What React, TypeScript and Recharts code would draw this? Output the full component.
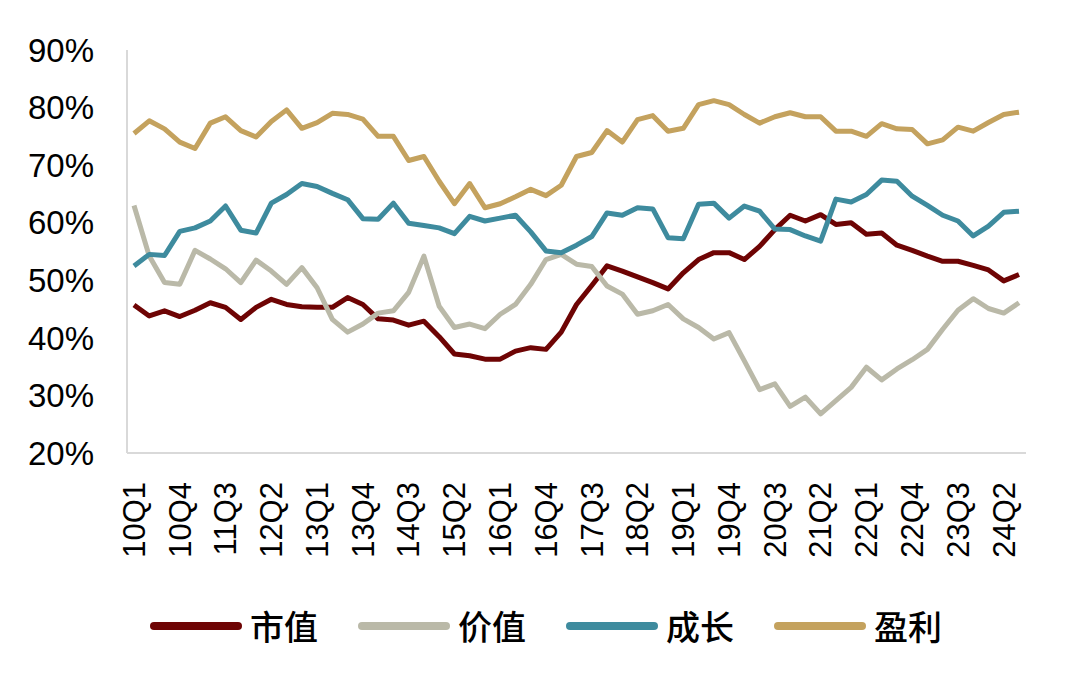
import React from 'react';
import { LineChart, Line, XAxis, YAxis, Legend } from 'recharts';

const QUARTERS = [
  '10Q1', '10Q2', '10Q3', '10Q4', '11Q1', '11Q2', '11Q3', '11Q4',
  '12Q1', '12Q2', '12Q3', '12Q4', '13Q1', '13Q2', '13Q3', '13Q4',
  '14Q1', '14Q2', '14Q3', '14Q4', '15Q1', '15Q2', '15Q3', '15Q4',
  '16Q1', '16Q2', '16Q3', '16Q4', '17Q1', '17Q2', '17Q3', '17Q4',
  '18Q1', '18Q2', '18Q3', '18Q4', '19Q1', '19Q2', '19Q3', '19Q4',
  '20Q1', '20Q2', '20Q3', '20Q4', '21Q1', '21Q2', '21Q3', '21Q4',
  '22Q1', '22Q2', '22Q3', '22Q4', '23Q1', '23Q2', '23Q3', '23Q4',
  '24Q1', '24Q2', '24Q3',
];

// 市值
const MARKET_CAP = [
  45.7, 43.8, 44.7, 43.7, 44.8, 46.1, 45.3, 43.2, 45.3, 46.7, 45.8, 45.4,
  45.3, 45.3, 47.0, 45.8, 43.3, 43.1, 42.2, 42.9, 40.2, 37.2, 36.9, 36.3,
  36.3, 37.7, 38.3, 38.0, 41.0, 45.8, 49.1, 52.5, 51.6, 50.6, 49.6, 48.5,
  51.3, 53.6, 54.8, 54.8, 53.6, 55.9, 58.8, 61.3, 60.3, 61.4, 59.7, 60.0,
  58.0, 58.2, 56.1, 55.2, 54.2, 53.3, 53.3, 52.6, 51.8, 49.9, 51.0,
];

// 价值
const VALUE = [
  63.0, 54.2, 49.6, 49.3, 55.2, 53.7, 52.0, 49.6, 53.5, 51.6, 49.3, 52.2,
  48.7, 43.2, 41.0, 42.4, 44.3, 44.7, 47.9, 54.2, 45.5, 41.8, 42.4, 41.6,
  44.1, 45.8, 49.3, 53.6, 54.5, 52.8, 52.4, 49.0, 47.6, 44.1, 44.7, 45.8,
  43.3, 41.8, 39.8, 40.9, 36.0, 31.0, 32.0, 28.1, 29.7, 26.8, 29.1, 31.4,
  34.9, 32.7, 34.6, 36.2, 38.0, 41.5, 44.8, 46.8, 45.1, 44.3, 46.1,
];

// 成长
const GROWTH = [
  52.5, 54.5, 54.3, 58.5, 59.1, 60.3, 62.9, 58.7, 58.2, 63.4, 64.9, 66.8,
  66.3, 65.1, 64.0, 60.7, 60.6, 63.4, 59.9, 59.5, 59.1, 58.1, 61.1, 60.3,
  60.8, 61.3, 58.4, 55.1, 54.8, 56.1, 57.6, 61.7, 61.3, 62.6, 62.4, 57.4,
  57.2, 63.2, 63.4, 60.8, 62.9, 62.0, 58.9, 58.8, 57.7, 56.8, 64.1, 63.6,
  64.9, 67.4, 67.2, 64.6, 63.0, 61.3, 60.3, 57.7, 59.4, 61.8, 62.0,
];

// 盈利
const PROFIT = [
  75.5, 77.7, 76.3, 74.0, 72.9, 77.3, 78.4, 76.0, 74.9, 77.6, 79.6, 76.4,
  77.4, 79.0, 78.8, 78.0, 75.0, 75.0, 70.8, 71.5, 67.2, 63.3, 66.8, 62.6,
  63.3, 64.5, 65.8, 64.7, 66.5, 71.5, 72.2, 76.0, 74.0, 77.9, 78.6, 75.9,
  76.4, 80.5, 81.2, 80.5, 78.8, 77.3, 78.4, 79.1, 78.4, 78.4, 75.9, 75.9,
  75.0, 77.2, 76.3, 76.2, 73.7, 74.4, 76.6, 75.9, 77.4, 78.8, 79.2,
];

const Y_TICKS = [20, 30, 40, 50, 60, 70, 80, 90];

const SERIES = [
  { key: 'marketCap', name: '市值', color: '#6E0404' },
  { key: 'value', name: '价值', color: '#BAB9A8' },
  { key: 'growth', name: '成长', color: '#3E8B9E' },
  { key: 'profit', name: '盈利', color: '#C4A25E' },
];

const chartData = QUARTERS.map((q, i) => ({
  quarter: q,
  marketCap: MARKET_CAP[i],
  value: VALUE[i],
  growth: GROWTH[i],
  profit: PROFIT[i],
}));

const LATIN_FONT = '"Liberation Sans", Arial, sans-serif';
const CJK_FONT = '"Noto Sans CJK SC", sans-serif';

const QuarterTick = (props: any) => {
  const { x, y, payload } = props;
  return (
    <text
      x={x}
      y={y}
      transform={`rotate(-90, ${x}, ${y})`}
      textAnchor="end"
      dy="0.35em"
      fontSize={31}
      fontFamily={LATIN_FONT}
      fill="#000"
    >
      {payload.value}
    </text>
  );
};

const LegendContent = () => (
  <div style={{ display: 'flex', alignItems: 'center', height: 40 }}>
    {SERIES.map(s => (
      <div key={s.key} style={{ width: 208, display: 'flex', alignItems: 'center' }}>
        <span
          style={{
            display: 'inline-block',
            width: 92,
            height: 8,
            borderRadius: 4,
            background: s.color,
            marginRight: 8,
          }}
        />
        <span
          style={{
            fontSize: 34,
            fontFamily: CJK_FONT,
            fontWeight: 500,
            lineHeight: '40px',
            color: '#000',
          }}
        >
          {s.name}
        </span>
      </div>
    ))}
  </div>
);

export default function App() {
  return (
    <div style={{ width: 1080, height: 686, background: '#fff' }}>
      <style>{'body { margin: 0; }'}</style>
      <LineChart
        width={1080}
        height={686}
        data={chartData}
        margin={{ top: 50, right: 54, left: 0, bottom: 40 }}
      >
        <XAxis
          dataKey="quarter"
          interval={2}
          tickLine={false}
          tickSize={0}
          tickMargin={29}
          height={153}
          padding={{ left: 7, right: 7 }}
          axisLine={{ stroke: '#D9D9D9', strokeWidth: 2 }}
          tick={<QuarterTick />}
        />
        <YAxis
          domain={[20, 90]}
          ticks={Y_TICKS}
          width={127}
          tickLine={false}
          tickSize={0}
          tickMargin={33}
          tickFormatter={(v: number) => `${v}%`}
          axisLine={{ stroke: '#D9D9D9', strokeWidth: 2 }}
          tick={{ fontSize: 33, fontFamily: LATIN_FONT, fill: '#000' }}
        />
        <Legend
          verticalAlign="bottom"
          content={<LegendContent />}
          wrapperStyle={{ left: 150, width: 840 }}
        />
        {SERIES.map(s => (
          <Line
            key={s.key}
            type="linear"
            dataKey={s.key}
            name={s.name}
            stroke={s.color}
            strokeWidth={5}
            strokeLinejoin="round"
            dot={false}
            activeDot={false}
            isAnimationActive={false}
          />
        ))}
      </LineChart>
    </div>
  );
}
